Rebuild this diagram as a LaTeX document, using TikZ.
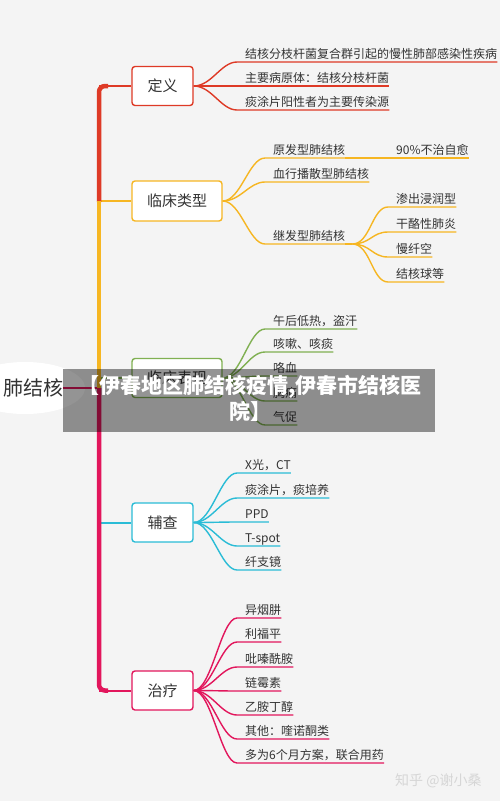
\documentclass[tikz,border=0pt]{standalone}
\usepackage{fontspec}
\setmainfont{Noto Sans CJK SC}
\definecolor{bg}{RGB}{244,244,244}
\definecolor{cRed}{RGB}{222,58,38}
\definecolor{cOrange}{RGB}{246,182,34}
\definecolor{cGreen}{RGB}{128,176,82}
\definecolor{cCyan}{RGB}{42,188,214}
\definecolor{cCrim}{RGB}{226,22,92}
\definecolor{txt}{RGB}{51,51,51}
\definecolor{wm}{RGB}{214,214,214}
\newcommand{\mmleaf}[5]{%
  \node[leaf] (#3) at (#4) {#5};
  \draw[#1, leafline] (#2) .. controls +(18,0) and +(-16,0) .. ([shift={(-8pt,-3.5pt)}]#3.base west) -- ([yshift=-3.5pt]#3.base east);
}
\begin{document}
\begin{tikzpicture}[x=1pt,y=-1pt,
  branch/.style={draw, fill=white, rounded corners=3pt, line width=1.4pt, text=txt,
    font=\fontsize{15}{15}\selectfont, inner sep=0pt, minimum height=39pt},
  leaf/.style={text=txt, font=\fontsize{12}{12}\selectfont, inner sep=0pt, anchor=base west},
  leafline/.style={line width=1.4pt},
  trunk/.style={line width=4.5pt},
  conn/.style={line width=2pt}]
\useasboundingbox (0,0) rectangle (500,801);
\clip (0,0) rectangle (500,801);
\fill[bg] (0,0) rectangle (500,801);

% root
\fill[white] (25,388) ellipse [x radius=60pt, y radius=26pt];
\node[text=txt, font=\fontsize{20}{20}\selectfont, inner sep=0pt] (root) at (33,388) {肺结核};
\coordinate (tj) at (99,388);
\draw[cCrim, conn] (root.east) -- (tj);

% branch boxes
\node[branch, draw=cRed, minimum width=61pt] (def) at (162.5,86) {定义};
\node[branch, draw=cOrange, minimum width=90pt, minimum height=40pt] (clin) at (177,201) {临床类型};
\node[branch, draw=cGreen, minimum width=90pt] (sym) at (177,378) {临床表现};
\node[branch, draw=cCyan, minimum width=61pt] (aux) at (162.5,522.5) {辅查};
\node[branch, draw=cCrim, minimum width=61pt] (treat) at (162.5,690.5) {治疗};

% trunk
\coordinate (t1) at (99,86);
\coordinate (t2) at (99,201);
\coordinate (t3) at (99,378);
\coordinate (t4) at (99,522.5);
\coordinate (t5) at (99,690.5);
\draw[cRed, conn] (t1) -- (def.west);
\draw[cOrange, conn] (t2) -- (clin.west);
\draw[cGreen, conn] (t3) -- (sym.west);
\draw[cCyan, conn] (t4) -- (aux.west);
\draw[cCrim, conn] (t5) -- (treat.west);
\draw[cRed, trunk, rounded corners=6pt] ([xshift=9pt]t1) -- (t1) -- ([yshift=-1pt]t2);
\draw[cOrange, trunk] (t2) -- (tj);
\draw[cCrim, trunk, rounded corners=6pt] (tj) -- (t5) -- ([xshift=9pt]t5);

% 定义
\mmleaf{cRed}{def.east}{d1}{245,58.5}{结核分枝杆菌复合群引起的慢性肺部感染性疾病}
\mmleaf{cRed}{def.east}{d2}{245,82.5}{主要病原体：结核分枝杆菌}
\mmleaf{cRed}{def.east}{d3}{245,106.5}{痰涂片阳性者为主要传染源}

% 临床类型
\mmleaf{cOrange}{clin.east}{c1}{273,154.5}{原发型肺结核}
\node[leaf] (c1a) at (396,154.5) {90\%不治自愈};
\draw[cOrange, leafline] ([yshift=-3.5pt]c1.base east) -- ([yshift=-3.5pt]c1a.base east);
\mmleaf{cOrange}{clin.east}{c2}{273,178.5}{血行播散型肺结核}
\mmleaf{cOrange}{clin.east}{c3}{273,240.5}{继发型肺结核}
\coordinate (ch) at ([shift={(7pt,-3.5pt)}]c3.base east);
\draw[cOrange, leafline] ([yshift=-3.5pt]c3.base east) -- (ch);
\mmleaf{cOrange}{ch}{c31}{396,203.5}{渗出浸润型}
\mmleaf{cOrange}{ch}{c32}{396,228.5}{干酪性肺炎}
\mmleaf{cOrange}{ch}{c33}{396,253.5}{慢纤空}
\mmleaf{cOrange}{ch}{c34}{396,278.5}{结核球等}

% 临床表现
\mmleaf{cGreen}{sym.east}{s1}{273,325.5}{午后低热，盗汗}
\mmleaf{cGreen}{sym.east}{s2}{273,348.5}{咳嗽、咳痰}
\mmleaf{cGreen}{sym.east}{s3}{273,372.5}{咯血}
\mmleaf{cGreen}{sym.east}{s4}{273,397.5}{胸痛}
\mmleaf{cGreen}{sym.east}{s5}{273,421.5}{气促}

% 辅查
\mmleaf{cCyan}{aux.east}{a1}{245,469.5}{X光，CT}
\mmleaf{cCyan}{aux.east}{a2}{245,494.5}{痰涂片，痰培养}
\mmleaf{cCyan}{aux.east}{a3}{245,518.5}{PPD}
\mmleaf{cCyan}{aux.east}{a4}{245,542.5}{T-spot}
\mmleaf{cCyan}{aux.east}{a5}{245,566.5}{纤支镜}

% 治疗
\mmleaf{cCrim}{treat.east}{z1}{245,614.5}{异烟肼}
\mmleaf{cCrim}{treat.east}{z2}{245,638.5}{利福平}
\mmleaf{cCrim}{treat.east}{z3}{245,663.5}{吡嗪酰胺}
\mmleaf{cCrim}{treat.east}{z4}{245,687.5}{链霉素}
\mmleaf{cCrim}{treat.east}{z5}{245,711.5}{乙胺丁醇}
\mmleaf{cCrim}{treat.east}{z6}{245,735.5}{其他：喹诺酮类}
\mmleaf{cCrim}{treat.east}{z7}{245,759.5}{多为6个月方案，联合用药}

% overlay banner
\fill[black, fill opacity=0.42] (63,369) rectangle (435,432);
\node[text=white, font=\fontsize{21}{26}\selectfont\bfseries, align=center, inner sep=0pt] (banner) at (250,398) {【伊春地区肺结核疫情,伊春市结核医\\院】};

% watermark
\node[text=wm, font=\fontsize{14}{14}\selectfont, anchor=west, inner sep=0pt] (wmark) at (395,781) {知乎 @谢小桑};
\end{tikzpicture}
\end{document}
